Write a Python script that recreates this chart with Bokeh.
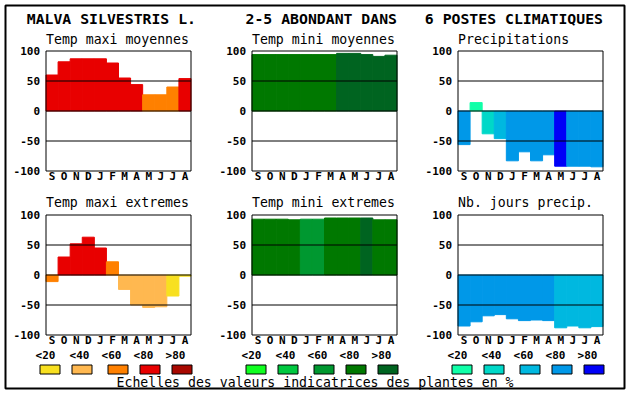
from bokeh.plotting import figure
from bokeh.models import Range1d, ColumnDataSource
from bokeh.core.properties import value
from bokeh.embed import file_html
from bokeh.resources import INLINE

# ---------------- data ----------------
months = ["S", "O", "N", "D", "J", "F", "M", "A", "M", "J", "J", "A"]
class_labels = ["<20", "<40", "<60", "<80", ">80"]
y_ticks = [-100, -50, 0, 50, 100]
grid_ticks = [-50, 0, 50]

headers = ["MALVA SILVESTRIS L.", "2-5 ABONDANT DANS", "6 POSTES CLIMATIQUES"]
footer = "Echelles des valeurs indicatrices des plantes en %"

tmax_moy = [60, 82, 87, 87, 87, 80, 55, 44, 27, 27, 40, 54]
tmax_moy_cls = [3, 3, 3, 3, 3, 3, 3, 3, 2, 2, 2, 3]
tmin_moy = [94, 94, 94, 94, 94, 94, 94, 96, 96, 94, 91, 93]
tmin_moy_cls = [3, 3, 3, 3, 3, 3, 3, 4, 4, 4, 4, 4]
precip = [-56, 14, -38, -46, -83, -68, -83, -73, -92, -92, -92, -93]
precip_cls = [3, 0, 1, 2, 3, 3, 3, 3, 4, 3, 3, 3]
tmax_ext = [-11, 30, 52, 63, 45, 22, -24, -50, -54, -53, -35, -2]
tmax_ext_cls = [2, 3, 3, 3, 3, 2, 1, 1, 1, 1, 0, 0]
tmin_ext = [93, 93, 93, 92, 93, 93, 95, 95, 95, 95, 92, 92]
tmin_ext_cls = [3, 3, 3, 3, 2, 2, 3, 3, 3, 4, 3, 3]
jours = [-85, -78, -68, -66, -73, -76, -75, -76, -88, -85, -88, -86]
jours_cls = [3, 3, 3, 3, 3, 3, 3, 3, 2, 2, 2, 2]

pal_tmax = ["#F8E020", "#FFB850", "#FF8000", "#E80000", "#A80800"]
pal_tmin = ["#10FF20", "#00C840", "#009830", "#007800", "#006420"]
pal_prec = ["#10FFA8", "#00D8C8", "#00B8E0", "#0098E8", "#0000F8"]

MONO = "DejaVu Sans Mono"

# ---------------- layout constants (pixels) ----------------
W, H = 630, 394
COL_L = [45.5, 251.5, 457.5]      # left edge of each panel's plot box
ROW_T = [50.5, 214.5]             # top edge of each row's plot box
PW, PH = 145, 120                 # plot box size

p = figure(width=W, height=H, x_range=Range1d(0, W), y_range=Range1d(H, 0),
           min_border=0, x_axis_location=None, y_axis_location=None,
           toolbar_location=None, output_backend="svg", title=None)
p.outline_line_color = None
p.background_fill_color = "white"
p.border_fill_color = "white"
p.xgrid.visible = False
p.ygrid.visible = False

# one pair of scales per panel, mapping months 0.5..12.5 and values -100..100 onto its box
xr, yr = {}, {}
for r, T in enumerate(ROW_T):
    for c, L in enumerate(COL_L):
        name = f"p{r}{c}"
        sx = 12.0 / PW
        xr[name] = Range1d(0.5 - L * sx, 12.5 + (W - L - PW) * sx)
        sy = 200.0 / PH
        yr[name] = Range1d(100 - (H - T) * sy, 100 + T * sy)
p.extra_x_ranges = xr
p.extra_y_ranges = yr

specs = [
    (0, 0, tmax_moy, tmax_moy_cls, pal_tmax, "Temp maxi moyennes"),
    (0, 1, tmin_moy, tmin_moy_cls, pal_tmin, "Temp mini moyennes"),
    (0, 2, precip, precip_cls, pal_prec, "Precipitations"),
    (1, 0, tmax_ext, tmax_ext_cls, pal_tmax, "Temp maxi extremes"),
    (1, 1, tmin_ext, tmin_ext_cls, pal_tmin, "Temp mini extremes"),
    (1, 2, jours, jours_cls, pal_prec, "Nb. jours precip."),
]
xs = list(range(1, 13))
header_dx = [5, 0, 0]

for r, c, vals, cls, pal, sub in specs:
    kw = dict(x_range_name=f"p{r}{c}", y_range_name=f"p{r}{c}")
    src = ColumnDataSource(dict(x=xs, top=vals, color=[pal[k] for k in cls]))
    p.vbar(x="x", width=1, bottom=0, top="top", fill_color="color",
           line_color="color", line_width=1, source=src, **kw)
    # horizontal reference lines (drawn over the bars)
    p.segment(x0=[0.5] * len(grid_ticks), x1=[12.5] * len(grid_ticks), y0=grid_ticks, y1=grid_ticks,
              line_color="black", line_width=1, **kw)
    # plot box
    p.quad(left=[0.5], right=[12.5], bottom=[-100], top=[100], fill_color=None,
           line_color="black", line_width=1, **kw)
    # y tick labels
    p.text(x=[0.5] * len(y_ticks), y=y_ticks, text=[str(t) for t in y_ticks], x_offset=-6,
           text_align="right", text_baseline="middle", text_font=value(MONO),
           text_font_style="bold", text_font_size="11px", text_color="black", **kw)
    # month labels
    p.text(x=xs, y=[-100] * 12, text=months, y_offset=-1, text_align="center",
           text_baseline="top", text_font=value(MONO), text_font_style="bold",
           text_font_size="11px", text_color="black", **kw)
    # panel title
    p.text(x=[0.5], y=[100], text=[sub], y_offset=-12 if r == 0 else -12.5, text_align="left",
           text_baseline="alphabetic", text_font=value(MONO), text_font_size="13.2px",
           text_color="black", **kw)
    if r == 0:
        p.text(x=[12.5], y=[100], text=[headers[c]], x_offset=header_dx[c], y_offset=-32.5,
               text_align="right", text_baseline="alphabetic", text_font=value(MONO),
               text_font_style="bold", text_font_size="14.8px", text_color="black", **kw)

# ---------------- legend (class scales) ----------------
sw_off = [0, 32, 68, 100, 132]
lab_off = [6, 40, 72, 104, 136]
for g, pal in enumerate([pal_tmax, pal_tmin, pal_prec]):
    x0 = 39 + 206 * g
    sl = [x0 + o + 0.5 for o in sw_off]
    p.quad(left=sl, right=[l + 20 for l in sl], top=364.5, bottom=373.5,
           fill_color=pal, line_color="black", line_width=1)
    p.text(x=[x0 + o for o in lab_off], y=[354.5] * 5, text=class_labels,
           text_align="center", text_baseline="middle", text_font=value(MONO),
           text_font_style="bold", text_font_size="11px", text_color="black")
p.text(x=[314.5], y=[381.5], text=[footer], text_align="center", text_baseline="alphabetic",
       text_font=value(MONO), text_font_size="13.2px", text_color="black")

# ---------------- outer frame ----------------
p.quad(left=[5], right=[624], top=[5], bottom=[388], fill_color=None,
       line_color="black", line_width=2)

open("out.html", "w").write(file_html(p, INLINE))
